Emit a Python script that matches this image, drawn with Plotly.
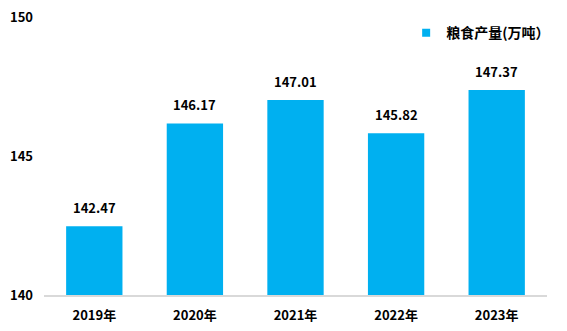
import plotly.graph_objects as go

categories = ["2019年", "2020年", "2021年", "2022年", "2023年"]
values = [142.47, 146.17, 147.01, 145.82, 147.37]
series_name = "粮食产量(万吨）"
y_ticks = [140, 145, 150]

FONT = "Microsoft YaHei, Noto Sans CJK SC, sans-serif"
COLOR = "#00B0F0"

fig = go.Figure()
fig.add_trace(go.Bar(
    x=categories, y=values, name=series_name,
    marker=dict(color=COLOR, line=dict(width=0)),
    width=0.56,
    showlegend=False,
))
# legend entry with a small square swatch
fig.add_trace(go.Scatter(
    x=[None], y=[None], mode="markers", name=f"<b>{series_name}</b>",
    marker=dict(symbol="square", size=8, color=COLOR),
    showlegend=True,
))

for c, v in zip(categories, values):
    fig.add_annotation(x=c, y=v, text=f"<b>{v:.2f}</b>", showarrow=False,
                       yanchor="bottom", yshift=7,
                       font=dict(family=FONT, size=13, color="#000000"))

fig.update_layout(
    width=567, height=331,
    margin=dict(l=44, r=15, t=17, b=36),
    paper_bgcolor="white", plot_bgcolor="white",
    font=dict(family=FONT, size=13, color="#000000"),
    legend=dict(x=0.72, y=0.942, xanchor="left", yanchor="middle",
                font=dict(family=FONT, size=14, color="#000000"),
                itemwidth=30, bgcolor="rgba(0,0,0,0)"),
    bargap=0.44,
)
fig.update_xaxes(
    showline=True, linecolor="#D9D9D9", linewidth=1.5,
    showgrid=False, ticks="", ticklabelstandoff=8, automargin=False,
    tickfont=dict(family=FONT, size=13, color="#000000", weight="bold"),
)
fig.update_yaxes(
    range=[140, 150], tickvals=y_ticks, ticktext=[f"<b>{t}</b>" for t in y_ticks],
    showline=False, showgrid=False, zeroline=False, ticks="",
    ticklabelstandoff=10, automargin=False,
    tickfont=dict(family=FONT, size=13, color="#000000"),
)

fig.write_html("out.html")
